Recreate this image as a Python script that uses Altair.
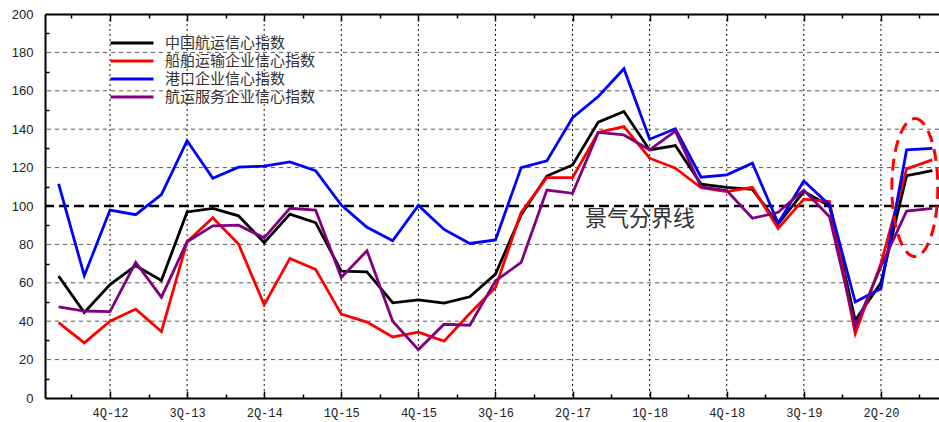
import altair as alt
import pandas as pd

# Quarter index 0 = 2Q-12 ... 34 = 4Q-20
quarter_idx = list(range(35))

series_names = ["中国航运信心指数", "船舶运输企业信心指数", "港口企业信心指数", "航运服务企业信心指数"]
series_colors = ["#000000", "#FF0000", "#0000FF", "#800080"]

shipping_index = [63.5, 44.5, 59.1, 68.9, 61.2, 96.9, 98.8, 94.9, 80.9, 95.8,
                  91.3, 66.1, 65.7, 49.6, 51.1, 49.4, 52.7, 64.5, 95.3, 115.6,
                  121.4, 143.7, 149.2, 129.2, 131.5, 111.4, 109.7, 108.7, 90.6, 107.5,
                  100.0, 40.5, 60.0, 115.8, 118.4]
ship_firms = [39.3, 28.7, 40.0, 46.3, 34.6, 81.4, 93.9, 80.2, 48.6, 72.7,
              67.0, 43.7, 39.5, 31.8, 34.3, 29.6, 44.0, 57.5, 96.7, 114.8,
              114.8, 138.3, 141.4, 124.9, 119.7, 109.5, 107.5, 109.7, 88.3, 103.6,
              102.3, 33.6, 70.0, 119.3, 124.0]
port_firms = [111.5, 63.7, 97.9, 95.5, 105.9, 134.0, 114.4, 120.2, 120.8, 123.0,
              118.4, 100.5, 88.9, 81.9, 100.3, 87.8, 80.5, 82.3, 120.0, 123.5,
              146.0, 157.0, 171.5, 134.8, 140.2, 115.0, 116.2, 122.3, 91.0, 113.0,
              100.5, 50.0, 57.0, 129.2, 130.0]
service_firms = [47.5, 45.3, 45.0, 70.6, 52.5, 81.4, 89.7, 90.0, 83.4, 98.8,
                 97.9, 62.8, 76.7, 40.0, 25.2, 38.4, 37.9, 61.0, 70.6, 108.3,
                 106.6, 138.3, 137.0, 129.2, 139.0, 110.0, 108.0, 93.6, 96.7, 108.3,
                 94.4, 37.0, 68.5, 97.4, 98.8]

tick_pos = [2, 5, 8, 11, 14, 17, 20, 23, 26, 29, 32]
tick_text = ["4Q-12", "3Q-13", "2Q-14", "1Q-15", "4Q-15", "3Q-16",
             "2Q-17", "1Q-18", "4Q-18", "3Q-19", "2Q-20"]
minor_pos = [p - 1.5 for p in tick_pos] + [33.5]
y_grid = [20, 40, 60, 80, 120, 140, 160, 180]

boundary_value = [100]
boundary_label = ["景气分界线"]
boundary_label_at = [20.48, 93.2]
highlight_at = [33.32, 109.6]

rows = []
for name, vals in zip(series_names,
                      [shipping_index, ship_firms, port_firms, service_firms]):
    for q, v in zip(quarter_idx, vals):
        rows.append({"q": q, "value": v, "series": name})
df = pd.DataFrame(rows)

W, H = 894, 384
xscale = alt.Scale(domain=[-0.53, 34.26], nice=False, zero=False)
yscale = alt.Scale(domain=[0, 200], nice=False, zero=False)

label_expr = "{" + ",".join(f"'{p}':'{t}'" for p, t in zip(tick_pos, tick_text)) + "}[datum.value]"

# dashed horizontal grid
hgrid = alt.Chart(pd.DataFrame({"v": y_grid})).mark_rule(
    color="#555", strokeWidth=1, strokeDash=[4, 4]
).encode(y=alt.Y("v:Q", scale=yscale, axis=None))

# dotted vertical grid at labelled quarters
vgrid = alt.Chart(pd.DataFrame({"q": tick_pos})).mark_rule(
    color="#111", strokeWidth=1, strokeDash=[2, 3]
).encode(x=alt.X("q:Q", scale=xscale, axis=None))

# lines + main axes
lines = alt.Chart(df).mark_line(strokeWidth=2.8).encode(
    x=alt.X("q:Q", scale=xscale, title=None,
            axis=alt.Axis(values=tick_pos, labelExpr=label_expr, tickSize=0,
                          domainColor="#000", domainWidth=2, grid=False,
                          labelFont="Liberation Mono", labelFontSize=12,
                          labelColor="#222", labelPadding=9)),
    y=alt.Y("value:Q", scale=yscale, title=None,
            axis=alt.Axis(values=list(range(0, 201, 20)), tickSize=0,
                          domainColor="#000", domainWidth=2, grid=False,
                          labelFont="Liberation Sans", labelFontSize=13,
                          labelColor="#222", labelPadding=12)),
    color=alt.Color("series:N",
                    scale=alt.Scale(domain=series_names, range=series_colors),
                    sort=series_names,
                    legend=alt.Legend(orient="none", legendX=78, legendY=20,
                                      title=None, symbolType="M-3,0H3",
                                      symbolSize=205, symbolStrokeWidth=3,
                                      labelFont="Noto Sans CJK SC",
                                      labelFontSize=15, labelColor="#333",
                                      labelLimit=400,
                                      labelOffset=24, rowPadding=1, padding=0)),
    order=alt.Order("q:Q"),
)

rule_df = pd.DataFrame({"v": boundary_value})
boundary = alt.Chart(rule_df).mark_rule(
    color="#000", strokeWidth=2.5, strokeDash=[10, 5]
).encode(y=alt.Y("v:Q", scale=yscale, axis=None))

text_df = pd.DataFrame({"q": [boundary_label_at[0]], "v": [boundary_label_at[1]],
                        "t": boundary_label})
boundary_text = alt.Chart(text_df).mark_text(
    align="left", baseline="middle", font="Noto Sans CJK SC",
    fontSize=22, color="#333"
).encode(x=alt.X("q:Q", scale=xscale, axis=None),
         y=alt.Y("v:Q", scale=yscale, axis=None), text="t:N")

ell_df = pd.DataFrame({"q": [highlight_at[0]], "v": [highlight_at[1]]})
ellipse = alt.Chart(ell_df).mark_point(
    shape="M0,-1A0.333,1 0 1,1 0,1A0.333,1 0 1,1 0,-1",
    size=19044, filled=False, color="#FF0000", opacity=1,
    strokeWidth=3, strokeDash=[12, 7]
).encode(x=alt.X("q:Q", scale=xscale, axis=None),
         y=alt.Y("v:Q", scale=yscale, axis=None))

tick_cond = {"condition": {"test": "datum.value % 3 == 2", "value": 7}, "value": 4}
all_ticks = sorted(tick_pos + minor_pos)

# inward ticks along the bottom edge
bottom_ticks = alt.Chart(df).mark_point(opacity=0).encode(
    x=alt.X("q:Q", scale=xscale, title=None,
            axis=alt.Axis(orient="top", offset=-H, values=all_ticks, labels=False,
                          domain=False, grid=False, tickColor="#000",
                          tickWidth=1.5, tickSize=tick_cond)),
    y=alt.Y("value:Q", scale=yscale, axis=None),
)

# top border with inward ticks
top_ticks = alt.Chart(df).mark_point(opacity=0).encode(
    x=alt.X("q:Q", scale=xscale, title=None,
            axis=alt.Axis(orient="bottom", offset=-H, values=all_ticks, labels=False,
                          domain=True, domainColor="#000", domainWidth=2,
                          grid=False, tickColor="#000",
                          tickWidth=1.5, tickSize=tick_cond)),
    y=alt.Y("value:Q", scale=yscale, axis=None),
)

# inward minor ticks along the left edge
left_ticks = alt.Chart(df).mark_point(opacity=0).encode(
    x=alt.X("q:Q", scale=xscale, axis=None),
    y=alt.Y("value:Q", scale=yscale, title=None,
            axis=alt.Axis(orient="right", offset=-W, values=list(range(10, 200, 20)),
                          labels=False, domain=False, grid=False,
                          tickColor="#000", tickWidth=1.5, tickSize=4)),
)

chart = alt.layer(
    hgrid, vgrid, boundary, lines, boundary_text, ellipse,
    bottom_ticks, top_ticks, left_ticks
).resolve_axis(x="independent", y="independent").properties(
    width=W, height=H,
    autosize=alt.AutoSizeParams(type="none"),
    padding={"left": 45, "top": 14, "right": 0, "bottom": 24},
    background="#FFFFFF",
).configure_view(stroke=None)

chart.save("out.html", embed_options={"renderer": "svg", "actions": False})
